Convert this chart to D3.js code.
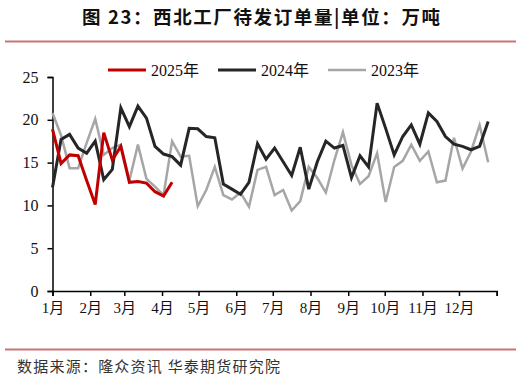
<!DOCTYPE html>
<html><head><meta charset="utf-8">
<script src="https://cdn.jsdelivr.net/npm/d3@7"></script>
<style>body{margin:0;background:#fff;}svg{display:block;}</style>
</head><body>
<svg id="c" width="521" height="379"></svg>
<script>
const seriesNames = ["2025年", "2024年", "2023年"];
const seriesColors = ["#c00000", "#262626", "#a6a6a6"];
const data2025 = [18.9, 14.9, 15.9, 15.8, 12.9, 10.1, 18.5, 15.3, 16.9, 12.7, 12.8, 12.6, 11.6, 11.1, 12.7];
const data2024 = [12.1, 17.7, 18.3, 16.7, 16.1, 17.5, 13.0, 14.2, 21.4, 19.2, 21.6, 20.2, 16.9, 16.0, 15.7, 14.7,
  19.0, 18.95, 18.05, 17.9, 12.5, 11.9, 11.3, 12.7, 17.2, 15.4, 16.7, 15.1, 13.5, 16.8, 11.9, 15.1,
  17.5, 16.7, 17.0, 13.25, 15.8, 14.5, 21.95, 19.0, 15.9, 18.05, 19.4, 17.15, 20.8, 19.8, 18.05, 17.15, 16.9, 16.5, 16.9, 19.8];
const data2023 = [20.8, 18.2, 14.35, 14.35, 17.3, 20.1, 15.9, 16.7, 17.1, 12.9, 17.1, 13.1, 12.2, 11.2, 17.5, 15.7,
  15.8, 9.9, 11.8, 14.5, 11.2, 10.7, 11.5, 9.85, 14.15, 14.5, 11.2, 11.8, 9.4, 10.5, 14.5, 13.2,
  11.5, 15.3, 18.55, 14.7, 12.5, 13.4, 16.1, 10.4, 14.5, 15.2, 17.1, 15.2, 16.3, 12.7, 12.9, 17.9, 14.3, 16.3, 19.4, 15.05];
const monthLabels = ["1月","2月","3月","4月","5月","6月","7月","8月","9月","10月","11月","12月",""];
const monthStartDays = [0,31,59,90,120,151,181,212,243,273,304,334,365];
const yTicks = [0,5,10,15,20,25];
const titleText = "图 23：西北工厂待发订单量|单位：万吨";
const sourceText = "数据来源：隆众资讯 华泰期货研究院";

(function () {
const svg = d3.select("#c");
const mLeft = 52.5, mRight = 496.7, mTop = 77, mBottom = 291;
const x = d3.scaleLinear().domain([0, 52]).range([mLeft, mRight]);
const y = d3.scaleLinear().domain([0, 25]).range([mBottom, mTop]);
const serif = "'Liberation Serif','Times New Roman',serif";
const cjk = "'Noto Sans CJK SC','Noto Sans',sans-serif";

// title
svg.append("text").attr("x", 82).attr("y", 23.5)
  .attr("font-family", cjk).attr("font-weight", "bold").attr("font-size", 18.5).attr("fill", "#111")
  .attr("textLength", 358).attr("lengthAdjust", "spacing")
  .text(titleText);
svg.append("line").attr("x1", 5).attr("x2", 516).attr("y1", 41.5).attr("y2", 41.5)
  .attr("stroke", "#c97575").attr("stroke-width", 2);
svg.append("line").attr("x1", 5).attr("x2", 516).attr("y1", 349.5).attr("y2", 349.5)
  .attr("stroke", "#c97575").attr("stroke-width", 2);
svg.append("text").attr("x", 17).attr("y", 372)
  .attr("font-family", cjk).attr("font-size", 15).attr("fill", "#333")
  .attr("textLength", 263).attr("lengthAdjust", "spacing")
  .text(sourceText);

// axes
const yAxis = d3.axisLeft(y).tickValues(yTicks).tickSize(5).tickPadding(9);
const gy = svg.append("g").attr("transform", `translate(${mLeft},0)`).call(yAxis);
const xTickVals = monthStartDays.map(d => d * 52 / 365);
const xAxis = d3.axisBottom(x).tickValues(xTickVals).tickSize(5).tickPadding(6)
  .tickFormat((d, i) => monthLabels[i]);
const gx = svg.append("g").attr("transform", `translate(0,${mBottom})`).call(xAxis);
[gx, gy].forEach(g => {
  g.select(".domain").attr("stroke", "#000").attr("stroke-width", 1.5);
  g.selectAll(".tick line").attr("stroke", "#000").attr("stroke-width", 1.5);
  g.selectAll("text").attr("font-family", serif + "," + cjk).attr("font-size", 16).attr("fill", "#111");
});
gx.selectAll("text").attr("font-size", 15);

// lines
const line = d3.line().x((d, i) => x(i)).y(d => y(d));
const all = [data2025, data2024, data2023];
[2, 1, 0].forEach(k => {
  svg.append("path").datum(all[k]).attr("d", line).attr("fill", "none")
    .attr("stroke", seriesColors[k]).attr("stroke-width", k === 2 ? 2.5 : 3)
    .attr("stroke-linejoin", "miter");
});

// legend
const legX = [108, 218, 328];
seriesNames.forEach((n, k) => {
  const g = svg.append("g").attr("transform", `translate(${legX[k]},70)`);
  g.append("line").attr("x1", 0).attr("x2", 38).attr("y1", 0).attr("y2", 0)
    .attr("stroke", seriesColors[k]).attr("stroke-width", k === 2 ? 2.5 : 3);
  g.append("text").attr("x", 43).attr("y", 5.5).attr("font-family", serif + "," + cjk)
    .attr("font-size", 16).attr("fill", "#111").text(n);
});
})();
</script>
</body></html>
